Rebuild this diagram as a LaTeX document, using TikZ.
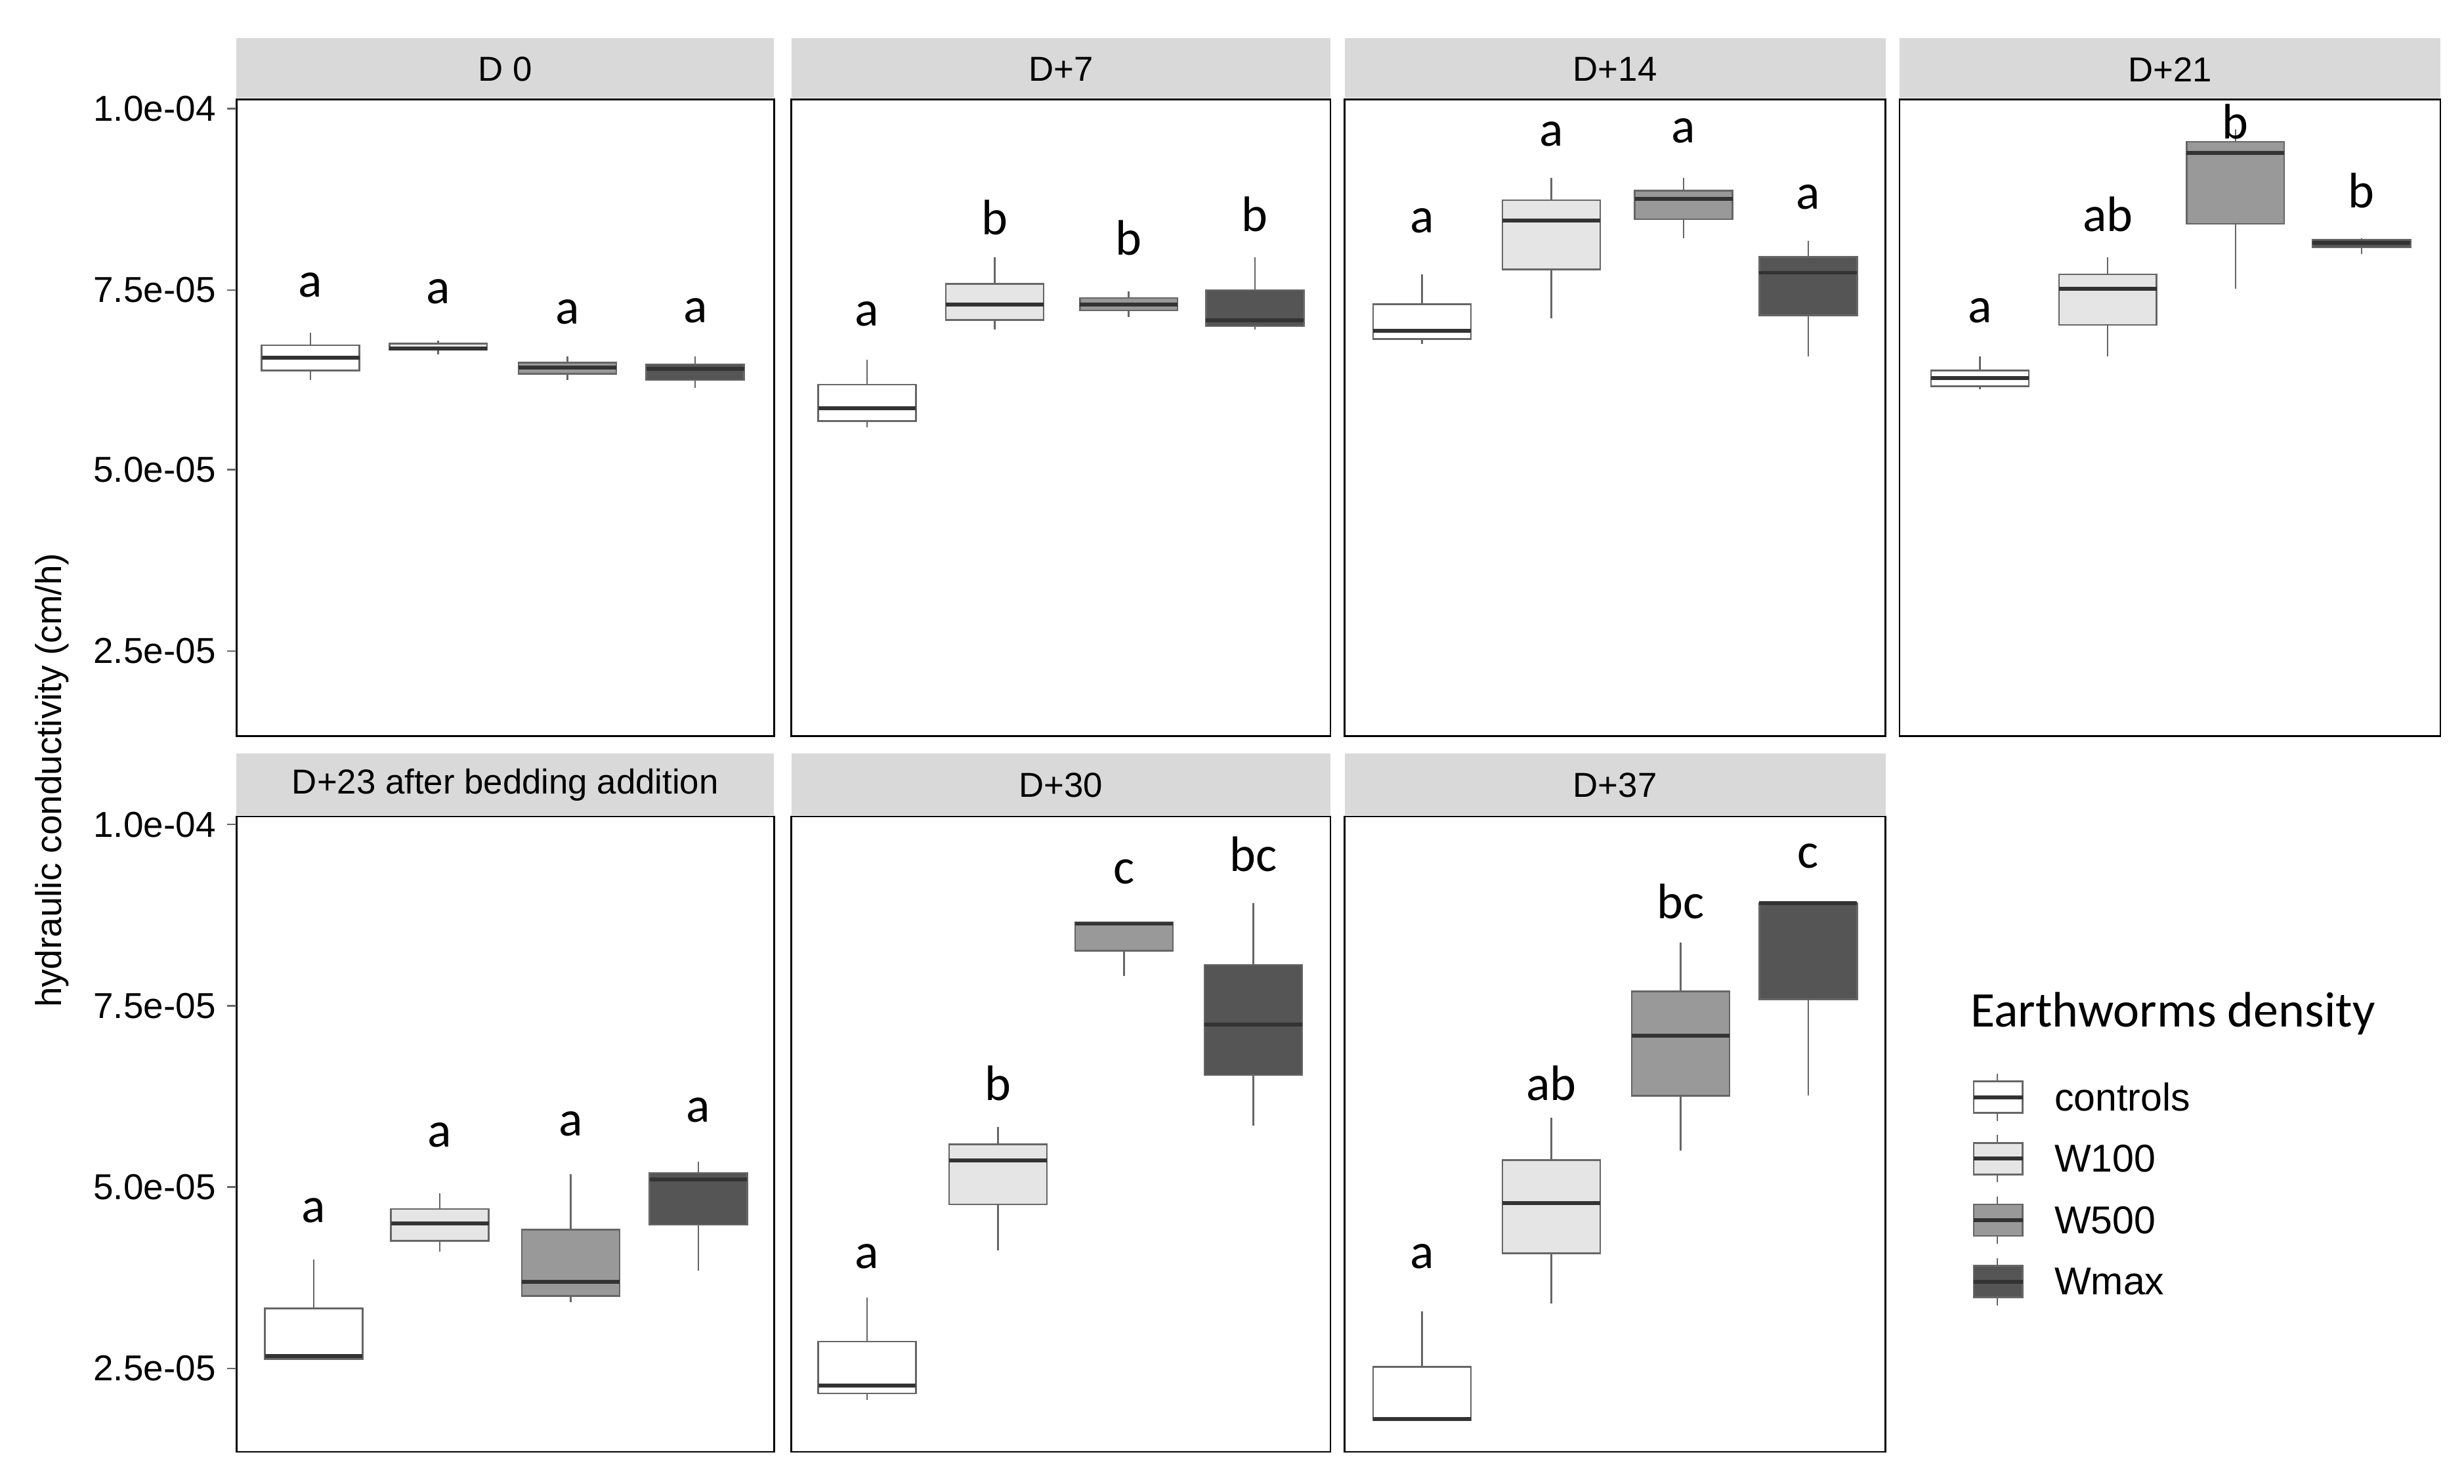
\documentclass[tikz,border=0pt]{standalone}
\usepackage{fontspec}
\setmainfont{Liberation Sans}
\newfontfamily\lblfont{Carlito}
\tikzset{
  strip/.style={fill=black!15,draw=none},
  panel/.style={draw=black,line width=0.6pt,fill=none},
  whisk/.style={draw=black!60,line width=0.6pt},
  boxb/.style={draw=black!60,line width=0.6pt},
  med/.style={draw=black!80,line width=1.4pt},
  lbl/.style={font=\lblfont\fontsize{18}{20}\selectfont},
  tick/.style={font=\fontsize{13}{15}\selectfont,anchor=east}
}
\definecolor{cA}{HTML}{FFFFFF}
\definecolor{cB}{HTML}{E5E5E5}
\definecolor{cC}{HTML}{999999}
\definecolor{cD}{HTML}{555555}
% cx, wt, q3, med, q1, wb, color, label, labely
\newcommand{\bxx}[9]{%
  \draw[whisk] (#1,-#2) -- (#1,-#3);
  \draw[whisk] (#1,-#5) -- (#1,-#6);
  \filldraw[boxb,fill=#7] (#1-31,-#3) rectangle (#1+31,-#5);
  \draw[med] (#1-31,-#4) -- (#1+31,-#4);
  \node[lbl] at (#1,-#9) {#8};
}
\begin{document}
\begin{tikzpicture}[x=0.02cm,y=0.02cm]
\useasboundingbox (0,0) rectangle (1563,-941);
% panels
\foreach \l/\r/\t in {150/491/D 0,502/844/D+7,853/1196/D+14,1205/1548/D+21}{
  \fill[strip] (\l,-24) rectangle (\r,-62);
  \node[font=\fontsize{12.5}{14}\selectfont] at ({(\l+\r)/2},-44) {\t};
  \draw[panel] (\l,-63) rectangle (\r,-467);
}
\foreach \l/\r/\t in {150/491/D+23 after bedding addition,502/844/D+30,853/1196/D+37}{
  \fill[strip] (\l,-478) rectangle (\r,-517);
  \node[font=\fontsize{12.5}{14}\selectfont] at ({(\l+\r)/2},-498) {\t};
  \draw[panel] (\l,-518) rectangle (\r,-921);
}
% y ticks
\foreach \y/\t in {69/1.0e-04,184/7.5e-05,298/5.0e-05,413/2.5e-05,523/1.0e-04,638/7.5e-05,753/5.0e-05,868/2.5e-05}{
  \draw[black!60,line width=0.6pt] (144,-\y) -- (150,-\y);
  \node[tick] at (143,-\y) {\t};
}
\node[rotate=90,font=\fontsize{13}{15}\selectfont] at (33,-495) {hydraulic conductivity (cm/h)};
% D0
\bxx{197}{211}{219}{227}{235}{241}{cA}{a}{181}
\bxx{278}{216}{218}{221}{222}{225}{cB}{a}{185}
\bxx{360}{226}{230}{233}{237}{241}{cC}{a}{198}
\bxx{441}{226}{231}{234}{241}{246}{cD}{a}{197}
% D+7
\bxx{550}{228}{244}{259}{267}{271}{cA}{a}{199}
\bxx{631}{163}{180}{193}{203}{209}{cB}{b}{138}
\bxx{716}{185}{189}{193}{197}{201}{cC}{b}{151}
\bxx{796}{163}{184}{203}{207}{209}{cD}{b}{136}
% D+14
\bxx{902}{174}{193}{210}{215}{218}{cA}{a}{140}
\bxx{984}{113}{127}{140}{171}{202}{cB}{a}{85}
\bxx{1068}{113}{121}{126}{139}{151}{cC}{a}{83}
\bxx{1147}{153}{163}{173}{200}{226}{cD}{a}{125}
% D+21
\bxx{1256}{226}{235}{240}{245}{247}{cA}{a}{197}
\bxx{1337}{163}{174}{183}{206}{226}{cB}{ab}{136}
\bxx{1418}{82}{90}{97}{142}{183}{cC}{b}{77}
\bxx{1498}{151}{152}{154}{157}{161}{cD}{b}{121}
% D+23
\bxx{199}{799}{830}{860}{862}{862}{cA}{a}{768}
\bxx{279}{757}{767}{776}{787}{794}{cB}{a}{720}
\bxx{362}{745}{780}{813}{822}{826}{cC}{a}{713}
\bxx{443}{737}{744}{748}{777}{806}{cD}{a}{704}
% D+30
\bxx{550}{823}{851}{879}{884}{888}{cA}{a}{797}
\bxx{633}{715}{726}{736}{764}{793}{cB}{b}{687}
\bxx{713}{585}{585}{586}{603}{619}{cC}{c}{553}
\bxx{795}{573}{612}{650}{682}{714}{cD}{bc}{542}
% D+37
\bxx{902}{832}{867}{900}{901}{901}{cA}{a}{797}
\bxx{984}{709}{736}{763}{795}{827}{cB}{ab}{687}
\bxx{1066}{598}{629}{657}{695}{730}{cC}{bc}{572}
\bxx{1147}{573}{573}{573}{634}{695}{cD}{c}{543}
% legend
\node[anchor=west,font=\lblfont\fontsize{18}{20}\selectfont] at (1244,-643) {Earthworms density};
\foreach \y/\c/\t in {696/cA/controls,735/cB/W100,774/cC/W500,813/cD/Wmax}{
  \draw[whisk] (1267,-\y+15) -- (1267,-\y-15);
  \filldraw[boxb,fill=\c] (1252,-\y+10) rectangle (1283,-\y-10);
  \draw[med] (1252,-\y) -- (1283,-\y);
  \node[anchor=west,font=\fontsize{14}{16}\selectfont] at (1297,-\y) {\t};
}
\end{tikzpicture}
\end{document}
